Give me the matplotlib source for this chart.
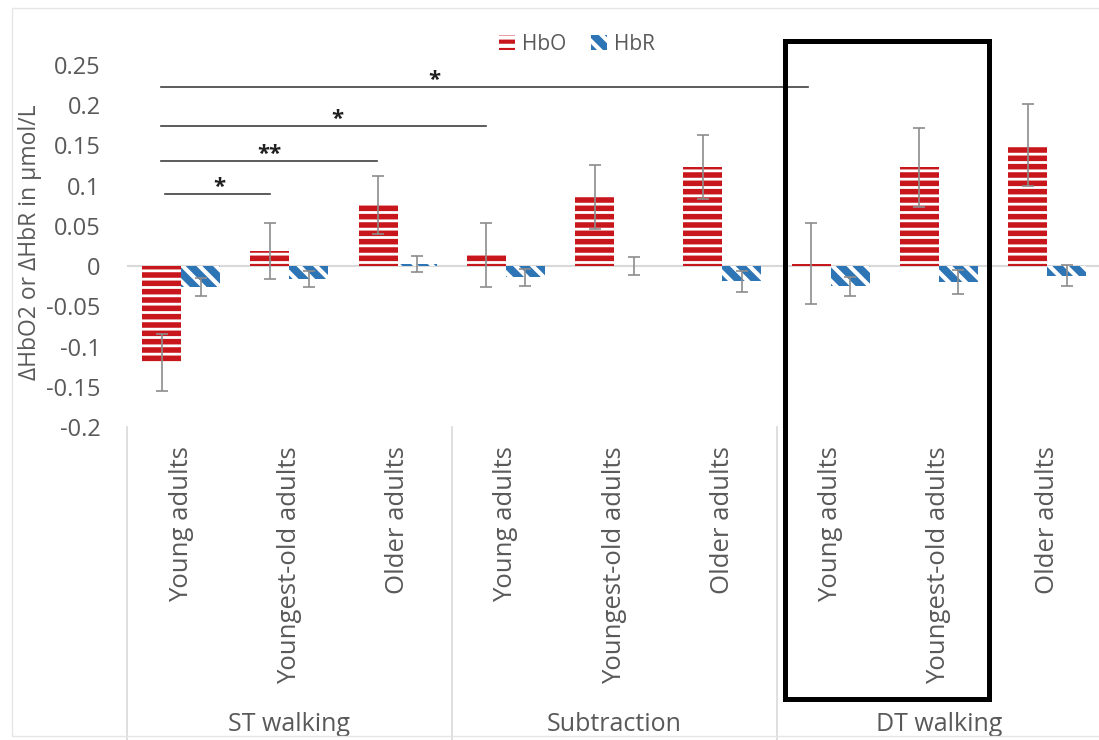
import numpy as np
import matplotlib
matplotlib.use('Agg')
import matplotlib.pyplot as plt
from matplotlib.patches import Rectangle
from matplotlib.lines import Line2D

# Datos del grafico
grupos = ['ST walking', 'Subtraction', 'DT walking']
edades = ['Young adults', 'Youngest-old adults', 'Older adults']
categorias = edades * 3

hbo = [-0.120, 0.019, 0.076, 0.014, 0.086, 0.123, 0.003, 0.123, 0.150]
hbo_err = [0.035, 0.035, 0.036, 0.040, 0.040, 0.040, 0.050, 0.049, 0.051]
hbr = [-0.026, -0.016, 0.003, -0.014, 0.0, -0.019, -0.025, -0.020, -0.012]
hbr_err = [0.011, 0.010, 0.010, 0.011, 0.011, 0.013, 0.012, 0.015, 0.013]

yticks = [-0.2, -0.15, -0.1, -0.05, 0, 0.05, 0.1, 0.15, 0.2, 0.25]
ytick_labels = ['-0.2', '-0.15', '-0.1', '-0.05', '0', '0.05', '0.1', '0.15', '0.2', '0.25']

# Lineas de significancia: (x inicio, x fin, altura, etiqueta, x de la etiqueta)
sig_inicio = [-0.15, -0.19, -0.19, -0.19]
sig_fin = [0.82, 1.81, 2.82, 5.79]
sig_altura = [0.090, 0.131, 0.1745, 0.223]
sig_texto = ['*', '**', '*', '*']
sig_x_texto = [0.35, 0.82, 1.44, 2.34]

rojo = '#c8161d'
azul = '#2e75b6'
gris = '#595959'

plt.rcParams['font.family'] = ['Open Sans', 'DejaVu Sans']
plt.rcParams['hatch.linewidth'] = 2.0

fig = plt.figure(figsize=(10.99, 7.40), dpi=100)
ax = fig.add_axes([127 / 1099, (740 - 427) / 740, 972 / 1099, 362 / 740])

x = np.arange(len(categorias))
ancho = 0.36

b1 = ax.bar(x - ancho / 2, hbo, ancho, color=rojo, edgecolor='white', linewidth=0,
            hatch='--', label='HbO', zorder=2)
plt.rcParams['hatch.linewidth'] = 3.0
b2 = ax.bar(x + ancho / 2, hbr, ancho, color=azul, edgecolor='white', linewidth=0,
            hatch='\\\\', label='HbR', zorder=2)

ax.errorbar(x - ancho / 2, hbo, yerr=hbo_err, fmt='none', ecolor='#8c8c8c',
            elinewidth=1.2, capsize=4, capthick=1.2, zorder=3)
ax.errorbar(x + ancho / 2, hbr, yerr=hbr_err, fmt='none', ecolor='#8c8c8c',
            elinewidth=1.2, capsize=4, capthick=1.2, zorder=3)

# Linea del cero
ax.axhline(0, color='#d9d9d9', linewidth=1.5, zorder=1)

ax.set_ylim(-0.2, 0.25)
ax.set_xlim(-0.5, -0.5 + 972 / 108.25)
for s in ax.spines.values():
    s.set_visible(False)

ax.set_yticks(yticks)
ax.set_yticklabels(ytick_labels, fontsize=17, color=gris)
ax.tick_params(axis='y', length=0, pad=19)
ax.set_ylabel('ΔHbO2 or ΔHbR in µmol/L', fontsize=16.5, color=gris)
ax.yaxis.set_label_coords(-0.0875, 0.51)

ax.set_xticks(x)
ax.set_xticklabels(categorias, rotation=90, fontsize=18.5, color=gris)
ax.tick_params(axis='x', length=0, pad=14)

# Separadores y nombres de grupo
trans = ax.get_xaxis_transform()
for i in range(len(grupos) + 1):
    ax.add_line(Line2D([3 * i - 0.5, 3 * i - 0.5], [0, -0.87], transform=trans,
                       color='#d9d9d9', linewidth=1.2, clip_on=False))
for i, g in enumerate(grupos):
    ax.text(3 * i + 1, -0.823, g, transform=trans, ha='center', va='center',
            fontsize=18, color=gris)

# Significancia
for xi, xf, h, t, xt in zip(sig_inicio, sig_fin, sig_altura, sig_texto, sig_x_texto):
    ax.plot([xi, xf], [h, h], color='#404040', linewidth=1.2, clip_on=False, zorder=4)
    ax.text(xt, h + 0.008, t, ha='center', va='center', fontsize=16,
            fontweight='bold', color='#202020', clip_on=False)

# Recuadro negro alrededor de DT walking
ax.add_patch(Rectangle((5.575, -0.75), 7.464 - 5.575, 1.066 + 0.75, transform=trans,
                       fill=False, edgecolor='black', linewidth=3.6, clip_on=False,
                       zorder=5))

# Borde del grafico
fig.patches.append(Rectangle((12 / 1099, 4 / 740), 1.2, 728 / 740, transform=fig.transFigure,
                             fill=False, edgecolor='#e6e6e6', linewidth=1))

fig.legend(handles=[b1, b2], loc='center', bbox_to_anchor=(577 / 1099, 1 - 44 / 740),
           ncol=2, frameon=False, fontsize=15, handlelength=0.75, handleheight=0.75,
           handletextpad=0.35, columnspacing=1.2, labelcolor=gris)

plt.savefig('out.png', dpi=100)
plt.close()
